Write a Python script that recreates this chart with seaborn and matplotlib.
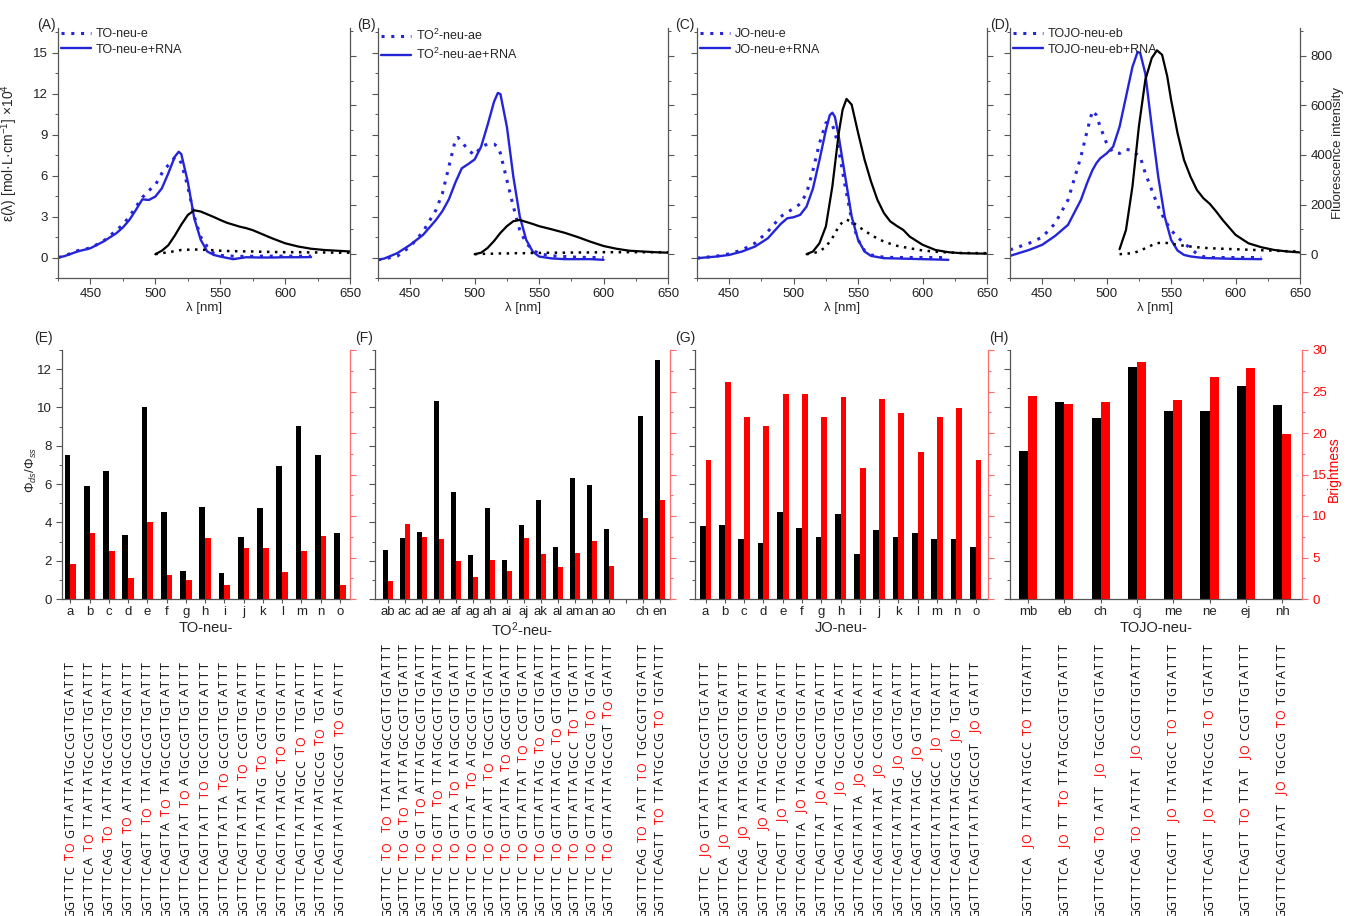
import numpy as np
import pandas as pd
import matplotlib
matplotlib.use("Agg")
import matplotlib.pyplot as plt
import seaborn as sns
from matplotlib.ticker import MultipleLocator

# ---------------- data: absorbance (left axis, x10^4) and fluorescence (right axis)
A_wl = [425, 430, 440, 450, 460, 470, 475, 480, 485, 490, 495, 500, 505, 510, 515, 518, 520,
        525, 530, 535, 540, 545, 550, 560, 570, 580, 590, 600, 610, 620]
A_free = [0.0, 0.12, 0.5, 0.7, 1.2, 2.0, 2.4, 3.0, 3.7, 4.4, 4.9, 5.3, 6.16, 6.77, 7.33, 7.25, 6.9,
          5.2, 3.0, 1.5, 0.8, 0.3, 0.15, 0.1, 0.08, 0.1, 0.1, 0.1, 0.1, 0.1]
A_rna = [0.0, 0.1, 0.44, 0.68, 1.17, 1.78, 2.2, 2.75, 3.48, 4.26, 4.21, 4.46, 5.06, 6.16, 7.38, 7.74, 7.57,
         5.55, 2.87, 1.29, 0.44, 0.19, 0.07, -0.12, 0.02, 0.0, 0.0, 0.02, 0.02, 0.03]
A_fl_wl = [500, 505, 510, 515, 520, 525, 530, 535, 540, 545, 550, 555, 560, 565, 570, 575, 580,
           590, 600, 610, 620, 630, 640, 650]
A_fl_free = [0, 4, 8, 12, 17, 18, 19, 18, 17, 16, 14, 13, 12, 12, 11, 11, 10, 9, 8, 8, 7, 7, 6, 6]
A_fl_rna = [0, 14, 36, 75, 119, 158, 177, 172, 161, 150, 138, 127, 119, 111, 105, 97, 86,
            64, 44, 31, 22, 17, 14, 11]

B_wl = [425, 430, 440, 450, 460, 470, 475, 480, 485, 487, 490, 495, 500, 505, 510, 515, 518, 520,
        525, 530, 535, 540, 545, 550, 560, 570, 580, 590, 600]
B_free = [-0.17, -0.1, 0.1, 0.8, 1.9, 3.48, 4.7, 6.65, 8.6, 8.79, 8.47, 7.86, 7.5, 8.11, 8.3, 8.3, 8.1, 7.62,
          5.67, 3.73, 2.0, 1.05, 0.56, 0.27, 0.12, 0.07, 0.02, 0.0, 0.0]
B_rna = [-0.17, -0.07, 0.32, 0.93, 1.66, 2.75, 3.4, 4.26, 5.48, 5.9, 6.53, 6.84, 7.18, 8.11, 9.69, 11.4, 12.05, 11.96,
         9.57, 5.92, 3.0, 1.29, 0.44, 0.07, -0.07, -0.12, -0.12, -0.12, -0.17]
B_fl_wl = [500, 505, 510, 515, 520, 525, 530, 535, 540, 545, 550, 560, 570, 580, 590, 600,
           610, 620, 630, 640, 650]
B_fl_free = [0, 1, 2, 2, 3, 3, 4, 4, 4, 5, 5, 6, 6, 7, 7, 8, 8, 8, 8, 8, 8]
B_fl_rna = [0, 6, 25, 53, 86, 113, 133, 138, 130, 122, 113, 100, 86, 69, 50, 33, 22, 14, 11, 8, 6]

C_wl = [425, 440, 450, 460, 470, 480, 490, 495, 500, 505, 510, 515, 520, 525, 528, 530, 532,
        535, 540, 545, 550, 555, 560, 570, 580, 600, 620]
C_free = [-0.05, 0.1, 0.27, 0.56, 1.05, 1.9, 3.0, 3.3, 3.6, 3.92, 4.7, 6.4, 8.35, 9.86, 9.9, 9.69, 9.2,
          7.86, 5.19, 2.75, 1.29, 0.5, 0.19, 0.02, 0.0, 0.0, 0.0]
C_rna = [-0.05, 0.07, 0.19, 0.44, 0.8, 1.41, 2.46, 2.87, 2.95, 3.12, 3.73, 5.06, 7.13, 9.33, 10.42, 10.6, 10.3,
         8.84, 5.92, 3.0, 1.29, 0.44, 0.12, -0.05, -0.07, -0.12, -0.17]
C_fl_wl = [510, 515, 520, 525, 530, 535, 538, 541, 545, 550, 555, 560, 565, 570, 575, 580,
           585, 590, 600, 610, 620, 630, 650]
C_fl_free = [0, 4, 11, 30, 65, 112, 130, 139, 132, 112, 95, 78, 63, 51, 42, 34, 29, 24, 15, 10, 7, 5, 4]
C_fl_rna = [0, 11, 44, 112, 273, 489, 583, 626, 603, 489, 381, 293, 219, 166, 132, 114,
            98, 71, 38, 17, 8, 4, 2]

D_wl = [425, 440, 450, 460, 470, 480, 485, 489, 492, 495, 500, 505, 510, 515, 520, 524, 526,
        530, 535, 540, 545, 550, 555, 560, 565, 570, 575, 580, 600, 620]
D_free = [0.56, 1.05, 1.49, 2.5, 4.21, 7.38, 9.33, 10.74, 10.42, 9.57, 8.35, 7.67, 7.62, 7.91, 7.86, 7.5, 7.38,
          6.16, 4.94, 3.73, 2.75, 2.0, 1.49, 1.05, 0.68, 0.27, 0.07, 0.0, 0.0, 0.0]
D_rna = [0.12, 0.56, 0.93, 1.58, 2.39, 4.21, 5.5, 6.4, 6.9, 7.26, 7.62, 8.11, 9.57, 11.76, 13.95, 15.05, 14.97,
         13.46, 9.57, 5.92, 3.0, 1.29, 0.51, 0.19, 0.08, 0.02, -0.03, -0.05, -0.1, -0.12]
D_fl_wl = [510, 515, 520, 525, 530, 535, 539, 543, 547, 550, 555, 560, 565, 570, 575, 580,
           585, 590, 600, 610, 620, 630, 640, 650]
D_fl_free = [0, 2, 4, 12, 24, 36, 44, 47, 45, 42, 38, 34, 31, 28, 26, 24, 23, 22, 20, 18, 16, 14, 12, 11]
D_fl_rna = [20, 98, 273, 515, 703, 791, 822, 804, 717, 622, 488, 380, 313, 259, 226, 203,
            172, 138, 78, 44, 28, 17, 11, 7]

top_names = [("TO-neu-e", "TO-neu-e+RNA"),
             ("TO$^2$-neu-ae", "TO$^2$-neu-ae+RNA"),
             ("JO-neu-e", "JO-neu-e+RNA"),
             ("TOJO-neu-eb", "TOJO-neu-eb+RNA")]

# ---------------- data: bar panels
E_cats = list("abcdefghijklmno")
E_ratio = [7.51, 5.88, 6.70, 3.34, 10.03, 4.54, 1.48, 4.78, 1.37, 3.25, 4.75, 6.96, 9.04, 7.53, 3.46]
E_bright = [4.2, 7.95, 5.8, 2.57, 9.3, 2.9, 2.25, 7.35, 1.7, 6.1, 6.2, 3.3, 5.8, 7.6, 1.7]

F_cats = ["ab", "ac", "ad", "ae", "af", "ag", "ah", "ai", "aj", "ak", "al", "am", "an", "ao", "ch", "en"]
F_ratio = [2.56, 3.17, 3.50, 10.33, 5.57, 2.28, 4.75, 2.02, 3.86, 5.18, 2.73, 6.30, 5.93, 3.63, 9.57, 12.47]
F_bright = [2.13, 9.0, 7.5, 7.27, 4.6, 2.7, 4.74, 3.33, 7.3, 5.46, 3.9, 5.6, 7.0, 4.0, 9.76, 11.93]
F_order = F_cats[:14] + [" "] + F_cats[14:]

G_cats = list("abcdefghijklmno")
G_ratio = [3.79, 3.86, 3.15, 2.92, 4.54, 3.70, 3.25, 4.42, 2.37, 3.62, 3.23, 3.46, 3.11, 3.13, 2.70]
G_bright = [16.8, 26.1, 21.9, 20.8, 24.7, 24.7, 21.9, 24.3, 15.8, 24.1, 22.4, 17.7, 21.9, 23.0, 16.7]

H_cats = ["mb", "eb", "ch", "cj", "me", "ne", "ej", "nh"]
H_ratio = [7.72, 10.31, 9.43, 12.09, 9.81, 9.81, 11.11, 10.12]
H_bright = [24.4, 23.5, 23.7, 28.5, 24.0, 26.7, 27.8, 19.9]

# ---------------- data: probe sequences (dyes TO / JO in red)
E_seqs = ["GGTTTC TO GTTATTATGCCGTTGTATTT", "GGTTTCA TO TTATTATGCCGTTGTATTT",
          "GGTTTCAG TO TATTATGCCGTTGTATTT", "GGTTTCAGT TO ATTATGCCGTTGTATTT",
          "GGTTTCAGTT TO TTATGCCGTTGTATTT", "GGTTTCAGTTA TO TATGCCGTTGTATTT",
          "GGTTTCAGTTAT TO ATGCCGTTGTATTT", "GGTTTCAGTTATT TO TGCCGTTGTATTT",
          "GGTTTCAGTTATTA TO GCCGTTGTATTT", "GGTTTCAGTTATTAT TO CCGTTGTATTT",
          "GGTTTCAGTTATTATG TO CGTTGTATTT", "GGTTTCAGTTATTATGC TO GTTGTATTT",
          "GGTTTCAGTTATTATGCC TO TTGTATTT", "GGTTTCAGTTATTATGCCG TO TGTATTT",
          "GGTTTCAGTTATTATGCCGT TO GTATTT"]
F_seqs = ["GGTTTC TO  TO TTATTATGCCGTTGTATTT", "GGTTTC TO G TO TATTATGCCGTTGTATTT",
          "GGTTTC TO GT TO ATTATGCCGTTGTATTT", "GGTTTC TO GTT TO TTATGCCGTTGTATTT",
          "GGTTTC TO GTTA TO TATGCCGTTGTATTT", "GGTTTC TO GTTAT TO ATGCCGTTGTATTT",
          "GGTTTC TO GTTATT TO TGCCGTTGTATTT", "GGTTTC TO GTTATTA TO GCCGTTGTATTT",
          "GGTTTC TO GTTATTAT TO CCGTTGTATTT", "GGTTTC TO GTTATTATG TO CGTTGTATTT",
          "GGTTTC TO GTTATTATGC TO GTTGTATTT", "GGTTTC TO GTTATTATGCC TO TTGTATTT",
          "GGTTTC TO GTTATTATGCCG TO TGTATTT", "GGTTTC TO GTTATTATGCCGT TO GTATTT",
          "GGTTTCAG TO TATT TO TGCCGTTGTATTT", "GGTTTCAGTT TO TTATGCCG TO TGTATTT"]
G_seqs = [s.replace("TO", "JO") for s in E_seqs]
H_seqs = ["GGTTTCA JO TTATTATGCC TO TTGTATTT", "GGTTTCA JO TT TO TTATGCCGTTGTATTT",
          "GGTTTCAG TO TATT JO TGCCGTTGTATTT", "GGTTTCAG TO TATTAT JO CCGTTGTATTT",
          "GGTTTCAGTT JO TTATGCC TO TTGTATTT", "GGTTTCAGTT JO TTATGCCG TO TGTATTT",
          "GGTTTCAGTT TO TTAT JO CCGTTGTATTT", "GGTTTCAGTTATT JO TGCCG TO TGTATTT"]

# ---------------- style
sns.set_theme(style="ticks")
plt.rcParams["font.family"] = ["Liberation Sans", "DejaVu Sans"]
plt.rcParams["mathtext.fontset"] = "custom"
plt.rcParams["mathtext.rm"] = "Liberation Sans"
plt.rcParams["mathtext.it"] = "Liberation Sans:italic"
plt.rcParams["mathtext.bf"] = "Liberation Sans:bold"
plt.rcParams["axes.edgecolor"] = "#555555"
plt.rcParams["axes.linewidth"] = 0.9
plt.rcParams["xtick.color"] = "#555555"
plt.rcParams["ytick.color"] = "#555555"
plt.rcParams["xtick.labelcolor"] = "#222222"
plt.rcParams["ytick.labelcolor"] = "#222222"

BLUE = "#2525d8"
RED = "#ff0000"
RED_SPINE = "#ff6a6a"
W, H = 1346, 916

fig = plt.figure(figsize=(W / 100, H / 100), dpi=100)


def rect(l, r, t, b):
    return [l / W, 1 - b / H, (r - l) / W, (b - t) / H]


def style_ticks(axis_obj, major_len=4, minor_len=2.2):
    axis_obj.tick_params(which="major", direction="out", length=major_len, width=0.8, labelsize=9.5)
    axis_obj.tick_params(which="minor", direction="out", length=minor_len, width=0.7)


# ---------------- top row
top_data = [(A_wl, A_free, A_rna, A_fl_wl, A_fl_free, A_fl_rna),
            (B_wl, B_free, B_rna, B_fl_wl, B_fl_free, B_fl_rna),
            (C_wl, C_free, C_rna, C_fl_wl, C_fl_free, C_fl_rna),
            (D_wl, D_free, D_rna, D_fl_wl, D_fl_free, D_fl_rna)]
top_x = [(58, 350), (378, 668), (697, 987), (1010, 1300)]
top_letters = ["(A)", "(B)", "(C)", "(D)"]
letter_pos_top = [46, 366, 685, 1000]

for i, (d, (l, r)) in enumerate(zip(top_data, top_x)):
    wl, free, rna, fwl, ffree, frna = d
    ax = fig.add_axes(rect(l, r, 28, 278))
    sns.lineplot(x=wl, y=free, ax=ax, color=BLUE, lw=2.2, linestyle=(0, (1, 2.2)),
                 label=top_names[i][0], legend=False)
    sns.lineplot(x=wl, y=rna, ax=ax, color=BLUE, lw=1.7, label=top_names[i][1], legend=False)
    ax.set_xlim(425, 650)
    ax.set_ylim(-1.5, 16.8)
    ax.xaxis.set_major_locator(MultipleLocator(50))
    ax.xaxis.set_minor_locator(MultipleLocator(25))
    ax.yaxis.set_major_locator(MultipleLocator(3))
    ax.yaxis.set_minor_locator(MultipleLocator(1.5))
    style_ticks(ax)
    ax.spines["top"].set_visible(False)
    ax.spines["right"].set_visible(False)
    ax.set_xlabel("λ [nm]", fontsize=9.5, labelpad=1)
    if i == 0:
        ax.set_ylabel("ε(λ) [mol·L·cm$^{-1}$] ×10$^{4}$", fontsize=10)
        ax.yaxis.set_label_coords(-0.13, 0.5)
    else:
        ax.set_ylabel("")
        ax.tick_params(labelleft=False)
    ax.legend(handles=ax.get_lines()[:2], loc="upper left", bbox_to_anchor=(0.0, 1.01),
              frameon=False, fontsize=9, handlelength=2.4, handletextpad=0.4,
              labelspacing=0.3, borderaxespad=0, borderpad=0.2)

    ax2 = ax.twinx()
    sns.lineplot(x=fwl, y=ffree, ax=ax2, color="black", lw=1.8, linestyle=(0, (1, 2.2)), legend=False)
    sns.lineplot(x=fwl, y=frna, ax=ax2, color="black", lw=1.6, legend=False)
    ax2.set_ylim(-96, 912)
    ax2.yaxis.set_major_locator(MultipleLocator(200))
    ax2.yaxis.set_minor_locator(MultipleLocator(100))
    style_ticks(ax2)
    for s in ["top", "left", "bottom"]:
        ax2.spines[s].set_visible(False)
    if i == 3:
        ax2.set_ylabel("Fluorescence intensity", fontsize=9.5)
        ax2.yaxis.set_label_coords(1.112, 0.5)
    else:
        ax2.set_ylabel("")
        ax2.tick_params(labelright=False)
    fig.text(letter_pos_top[i] / W, 1 - 25 / H, top_letters[i], ha="center", va="center", fontsize=10)

# ---------------- bottom row
bar_specs = [
    (E_cats, E_cats, E_ratio, E_bright, E_seqs, (62, 350), (-0.43, 14.52), 0.6, "TO-neu-", "(E)", 43),
    (F_order, F_cats, F_ratio, F_bright, F_seqs, (375, 670), (-0.75, 16.59), 0.6, "TO$^2$-neu-", "(F)", 364),
    (G_cats, G_cats, G_ratio, G_bright, G_seqs, (695, 988), (-0.55, 14.64), 0.6, "JO-neu-", "(G)", 685),
    (H_cats, H_cats, H_ratio, H_bright, H_seqs, (1010, 1302), (-0.5, 7.55), 0.5, "TOJO-neu-", "(H)", 999),
]
pal = {"ratio": "black", "bright": RED}
hue_levels = ["ratio", "bright"]

U = 8.83        # px per letter along the sequence
SPACE = 0.54    # fraction of a letter used by a space

for j, (order, cats, ratio, bright, seqs, (l, r), xl, bw, xlabel, letter, lx) in enumerate(bar_specs):
    ax = fig.add_axes(rect(l, r, 350, 599))
    dfr = pd.DataFrame({"cat": cats, "val": ratio, "kind": "ratio"})
    dfb = pd.DataFrame({"cat": cats, "val": bright, "kind": "bright"})
    sns.barplot(data=dfr, x="cat", y="val", hue="kind", hue_order=hue_levels, order=order,
                palette=pal, width=bw, gap=0, dodge=True, saturation=1, linewidth=0, ax=ax,
                legend=False, errorbar=None)
    ax2 = ax.twinx()
    sns.barplot(data=dfb, x="cat", y="val", hue="kind", hue_order=hue_levels, order=order,
                palette=pal, width=bw, gap=0, dodge=True, saturation=1, linewidth=0, ax=ax2,
                legend=False, errorbar=None)
    ax.set_xlim(*xl)
    ax.set_ylim(0, 13)
    ax2.set_ylim(0, 30)
    ax.yaxis.set_major_locator(MultipleLocator(2))
    ax.yaxis.set_minor_locator(MultipleLocator(1))
    ax2.yaxis.set_major_locator(MultipleLocator(5))
    ax2.yaxis.set_minor_locator(MultipleLocator(2.5))
    style_ticks(ax)
    style_ticks(ax2)
    ax.tick_params(axis="x", length=3, labelsize=9.5, pad=2)
    ax.spines["top"].set_visible(False)
    ax.spines["right"].set_visible(False)
    for s in ["top", "left", "bottom"]:
        ax2.spines[s].set_visible(False)
    ax2.spines["right"].set_color(RED_SPINE)
    ax2.tick_params(axis="y", which="both", color=RED_SPINE, labelcolor=RED)
    ax.set_xlabel(xlabel, fontsize=10.5, labelpad=2)
    ax2.set_xlabel("")
    if j == 0:
        ax.set_ylabel("Φ$_{ds}$/Φ$_{ss}$", fontsize=9.5)
        ax.yaxis.set_label_coords(-0.08, 0.52)
    else:
        ax.set_ylabel("")
        ax.tick_params(labelleft=False)
    if j == 3:
        ax2.set_ylabel("Brightness", fontsize=10, color=RED)
        ax2.yaxis.set_label_coords(1.086, 0.52)
    else:
        ax2.set_ylabel("")
        ax2.tick_params(labelright=False)
    fig.text(lx / W, 1 - 338 / H, letter, ha="center", va="center", fontsize=10)

    # sequences under the bars
    axs = fig.add_axes(rect(l, r, 640, 916))
    axs.set_xlim(*xl)
    y0 = -2 / U
    axs.set_ylim(y0, y0 + 276 / U)
    axs.axis("off")
    for cat, seq in zip(cats, seqs):
        xi = order.index(cat)
        pos = 0.0
        tokens = seq.split(" ")
        for ti, tok in enumerate(tokens):
            col = RED if tok in ("TO", "JO") else "#111111"
            for ch in tok:
                axs.text(xi, pos, ch, rotation=90, ha="center", va="center", color=col,
                         fontsize=9, family="Open Sans")
                pos += 1.0
            if ti < len(tokens) - 1:
                pos += SPACE

fig.savefig("out.png", dpi=100)
